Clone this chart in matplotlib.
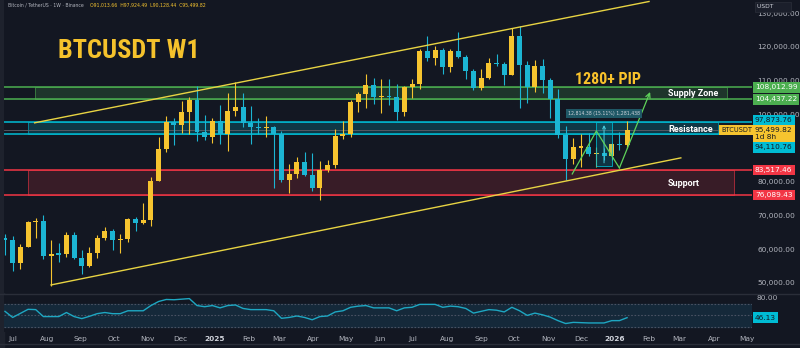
import matplotlib
matplotlib.use('Agg')
import matplotlib.pyplot as plt
import matplotlib.dates as mdates
import matplotlib.transforms as mtransforms
import matplotlib.font_manager as fm
from matplotlib.patches import Rectangle
from matplotlib.lines import Line2D
from matplotlib.colors import to_rgba
import numpy as np
import pandas as pd

# ---------------- data ----------------
first_week = '2024-06-24'
opens = [63200, 62770, 55860, 60800, 68170, 68260, 58120, 58710, 58430, 64220,
         57300, 54870, 58920, 63330, 65400, 62760, 62880, 68900, 67800, 68700,
         80300, 89700, 97600, 96800, 100700, 104300, 94800, 93400, 98000, 94300,
         101000, 102200, 97500, 96300, 96000, 96200, 94200, 80500, 82300, 85900,
         82000, 78200, 83500, 85000, 93600, 94100, 103700, 106000, 108700, 105200,
         105500, 105300, 100700, 108100, 109000, 118800, 116700, 119100, 114000, 118800,
         117000, 112900, 107800, 110800, 115300, 115100, 111700, 123300, 114700, 108100,
         114400, 110200, 104500, 94000, 86800, 90300, 90400, 88300, 88500, 87600,
         91200, 91013.66]
highs = [64500, 63860, 61420, 68370, 69400, 70080, 62750, 61800, 65000, 64960,
         59810, 60670, 64130, 66500, 66000, 64470, 69400, 69500, 73620, 81500,
         93270, 99590, 98870, 104000, 105250, 108350, 99960, 98980, 102720, 106420,
         109590, 106460, 102500, 98830, 99500, 96500, 95000, 85300, 87470, 88750,
         88500, 86100, 86500, 95750, 97900, 104350, 106600, 111980, 110700, 110500,
         110600, 108950, 108500, 110500, 119500, 123200, 120250, 119800, 119300, 124470,
         117600, 113500, 113400, 116700, 117900, 115600, 125700, 126200, 115900, 116000,
         116400, 110800, 107500, 96600, 93100, 94100, 94600, 90400, 90000, 91400,
         94800, 97924.49]
lows = [58400, 53480, 54260, 60630, 63450, 57120, 49000, 56080, 57790, 57200,
        52550, 54580, 57490, 62680, 59830, 58900, 62000, 65500, 67480, 66830,
        80220, 88750, 90790, 94500, 94150, 92230, 92500, 91530, 91200, 89260,
        99500, 96150, 91230, 94100, 93400, 78260, 80000, 76600, 81150, 81600,
        77150, 74500, 83000, 83950, 92800, 93400, 100700, 102000, 103100, 100370,
        102660, 98200, 99600, 105000, 107500, 115700, 114700, 112000, 112700, 116800,
        110600, 107300, 107300, 110600, 114400, 108600, 111600, 102000, 103500, 106700,
        106300, 98900, 93000, 80600, 85300, 84400, 87800, 84400, 86500, 86600,
        89300, 90128.44]
closes = [62770, 55860, 60800, 68170, 68260, 58120, 58710, 58430, 64220, 57300,
          54870, 58920, 63330, 65400, 62760, 62880, 68900, 67800, 68700, 80300,
          89700, 97600, 96800, 100700, 104300, 94800, 93400, 98000, 94300, 101000,
          102200, 97500, 96300, 96000, 96200, 94200, 80500, 82300, 85900, 82000,
          78200, 83500, 85000, 93600, 94100, 103700, 106000, 108700, 105200, 105500,
          105300, 100700, 108100, 109000, 118800, 116700, 119100, 114000, 118800, 117000,
          112900, 107800, 110800, 115300, 115100, 111700, 123300, 114700, 108100, 114400,
          110200, 104500, 94000, 86800, 90300, 90400, 88300, 88500, 87600, 91200,
          91010, 95499.82]
rsi = [57, 46.5, 53.5, 60.5, 60, 48, 48, 48, 55, 48,
       44.5, 48.5, 53, 55, 53, 53, 58, 58, 58, 67,
       74, 77.5, 77, 78, 79, 67, 65, 67, 63, 67,
       68, 62, 60, 60, 60, 58, 45, 46.5, 49, 46.5,
       42.5, 48, 49, 56, 58, 64, 66, 67, 63, 63,
       63, 58, 63, 64, 69, 69, 69, 64, 66, 65,
       62, 54, 57, 60, 59, 56, 64, 58, 50, 54,
       51, 47, 41, 36, 38, 37.5, 37, 37, 37, 41,
       41, 46.13]

price_ticks = [50000, 60000, 70000, 80000, 100000, 110000, 120000, 130000]

supply_zone = (104437.22, 108012.99, '2024-07-21', '2026-04-13')
resistance_zone = (94110.76, 97873.76, '2024-07-15', '2026-04-05')
support_zone = (76089.43, 83517.46, '2024-07-15', '2026-04-19')

channel_upper_dates = ['2024-07-21', '2026-02-01']
channel_upper_prices = [97500, 133500]
channel_lower_dates = ['2024-08-05', '2026-03-02']
channel_lower_prices = [49400, 87100]

path_dates = ['2025-11-23', '2025-12-15', '2026-01-05', '2026-02-02']
path_prices = [82320, 95080, 84100, 106650]

measure_dates = ['2025-12-15', '2025-12-29']
measure_prices = [84800, 97650]
measure_label = '12,814.38 (15.11%) 1,281,438'

header_name = 'Bitcoin / TetherUS · 1W · Binance'
header_ohlc = 'O91,013.66  H97,924.49  L90,128.44  C95,499.82'

# ---------------- style ----------------
BG = '#131722'
UP = '#f6c42f'
DOWN = '#1cb5d3'
GRID_TXT = '#b2b5be'
GREEN = '#4caf50'
CYAN = '#00bcd4'
RED = '#f23645'
YELLOW_LINE = '#e8d443'

W, H = 800, 348

# pick a condensed bold font if one is installed
narrow_kw = dict(family=['DejaVu Sans'])
narrow_found = False
names = {f.name for f in fm.fontManager.ttflist}
for nm in ['Liberation Sans Narrow', 'Roboto Condensed', 'Open Sans Condensed',
           'Noto Sans Condensed', 'DejaVu Sans Condensed', 'Arial Narrow']:
    if nm in names:
        narrow_kw = dict(family=[nm, 'DejaVu Sans'])
        narrow_found = True
        break
if not narrow_found:
    for f in fm.fontManager.ttflist:
        if f.stretch in ('condensed', 'semi-condensed', 'extra-condensed') or \
                (isinstance(f.stretch, int) and f.stretch < 500):
            narrow_kw = dict(family=[f.name, 'DejaVu Sans'], fontstretch='condensed')
            narrow_found = True
            break


def px_axes(l, t, r, b):
    return [l / W, 1 - b / H, (r - l) / W, (b - t) / H]


fig = plt.figure(figsize=(W / 100, H / 100), dpi=100, facecolor=BG)
ax = fig.add_axes(px_axes(4, 0, 752, 293))
axr = fig.add_axes(px_axes(4, 295, 752, 332), sharex=ax)
for a in (ax, axr):
    a.set_facecolor(BG)
    for s in a.spines.values():
        s.set_visible(False)

dates = pd.date_range(first_week, periods=len(opens), freq='7D')
x = mdates.date2num(dates)
o = np.array(opens, float)
h = np.array(highs, float)
l = np.array(lows, float)
c = np.array(closes, float)

base = mdates.date2num(pd.Timestamp(first_week))
px_per_day = 7.68 / 7.0
xl = base + (4 - 5) / px_per_day
xr = base + (752 - 5) / px_per_day
ax.set_xlim(xl, xr)

ppx = 10000 / 33.7
ytop = 120000 + 47 * ppx
ybot = 120000 - (293 - 47) * ppx
ax.set_ylim(ybot, ytop)


def ypx(py):
    return 120000 - (py - 47) * ppx


def draw_zone(z, col, alpha):
    lo, hi, d0, d1 = z
    x0 = mdates.date2num(pd.Timestamp(d0))
    x1 = mdates.date2num(pd.Timestamp(d1))
    ax.add_patch(Rectangle((x0, lo), x1 - x0, hi - lo, facecolor=to_rgba(col, alpha),
                           edgecolor=to_rgba(col, 0.6), lw=0.7, zorder=1))
    ax.axhline(lo, color=col, lw=1.1, zorder=2)
    ax.axhline(hi, color=col, lw=1.1, zorder=2)


draw_zone(supply_zone, GREEN, 0.2)
draw_zone(resistance_zone, CYAN, 0.2)
draw_zone(support_zone, RED, 0.17)

ax.axhline(c[-1], color='#5d606b', lw=0.6, zorder=2)

ax.plot(mdates.date2num(pd.to_datetime(channel_upper_dates)), channel_upper_prices,
        color=YELLOW_LINE, lw=1.0, zorder=5)
ax.plot(mdates.date2num(pd.to_datetime(channel_lower_dates)), channel_lower_prices,
        color=YELLOW_LINE, lw=1.0, zorder=5)

# candles
up = c >= o
cols = np.where(up, UP, DOWN)
ax.vlines(x, l, h, colors=cols, lw=0.8, zorder=3)
body_lo = np.minimum(o, c)
body_h = np.abs(c - o)
minh = 350
body_lo = np.where(body_h < minh, body_lo - (minh - body_h) / 2, body_lo)
body_h = np.maximum(body_h, minh)
ax.bar(x, body_h, bottom=body_lo, width=4.5, color=cols, linewidth=0, zorder=4)

# measurement box
mx = mdates.date2num(pd.to_datetime(measure_dates))
ax.add_patch(Rectangle((mx[0], measure_prices[0]), mx[1] - mx[0],
                       measure_prices[1] - measure_prices[0],
                       facecolor=to_rgba(CYAN, 0.18), edgecolor=to_rgba(CYAN, 0.8),
                       lw=0.7, zorder=6))
mid = (mx[0] + mx[1]) / 2
ax.annotate('', xy=(mid, measure_prices[1]), xytext=(mid, measure_prices[0]),
            arrowprops=dict(arrowstyle='->', color='#4dd0e1', lw=0.7,
                            mutation_scale=5), zorder=7)
ax.text(mid, measure_prices[1] + 2600, measure_label, fontsize=3.3, color='#d1d4dc',
        ha='center', va='center', zorder=8,
        bbox=dict(boxstyle='square,pad=0.5', fc='#1f5866', ec='none'))

# green projection path
pxs = mdates.date2num(pd.to_datetime(path_dates))
ax.plot(pxs[:-1], path_prices[:-1], color='#5fd35a', lw=0.9, zorder=7)
ax.annotate('', xy=(pxs[-1], path_prices[-1]), xytext=(pxs[-2], path_prices[-2]),
            arrowprops=dict(arrowstyle='->', color='#5fd35a', lw=0.9,
                            mutation_scale=8, shrinkA=0, shrinkB=0), zorder=7)


def fx(px):
    return (px - 4) / 748.0


def fy(py):
    return 1 - py / 293.0


lab_kw = dict(transform=ax.transAxes, color='white', fontsize=6.5, fontweight='bold',
              ha='left', va='center', zorder=9, family=['Roboto', 'DejaVu Sans'])
ax.text(fx(668), fy(94), 'Supply Zone', **lab_kw)
ax.text(fx(668), fy(129), 'Resistance', **lab_kw)
ax.text(fx(668), fy(183), 'Support', **lab_kw)

pip_size = 11.5 if narrow_found else 8.5
title_size = 19 if narrow_found else 14.5
ax.text(fx(575), fy(80), '1280+ PIP', transform=ax.transAxes, color='#f9c22b',
        fontsize=pip_size, fontweight='bold', ha='left', va='center', zorder=9,
        **narrow_kw)
ax.text(fx(58), fy(51), 'BTCUSDT W1', transform=ax.transAxes, color='#f5c22c',
        fontsize=title_size, fontweight='heavy', ha='left', va='center', zorder=9,
        **narrow_kw)

# price axis
ax.yaxis.tick_right()
ax.set_yticks(price_ticks)
ax.set_yticklabels([f'{v:,.2f}' for v in price_ticks])
ax.tick_params(axis='y', length=0, pad=4, labelsize=5.3, labelcolor=GRID_TXT)
ax.tick_params(axis='x', length=0, labelbottom=False)

ytr = mtransforms.blended_transform_factory(ax.transAxes, ax.transData)
box_x = 1 + 3 / 748.0


def price_box(val, fc, tc, ypos_px=None, txt=None):
    yv = ypx(ypos_px) if ypos_px is not None else val
    ax.text(box_x, yv, txt if txt else f'{val:,.2f}', transform=ytr, fontsize=5.3,
            color=tc, ha='left', va='center', zorder=10, clip_on=False,
            linespacing=1.25,
            bbox=dict(boxstyle='square,pad=0.3', fc=fc, ec='none'))


price_box(supply_zone[1], GREEN, 'white')
price_box(supply_zone[0], GREEN, 'white')
price_box(resistance_zone[1], CYAN, '#131722', ypos_px=120.5)
price_box(c[-1], '#f6c42f', '#131722', ypos_px=133.5, txt=f'{c[-1]:,.2f}\n1d 8h')
price_box(resistance_zone[0], CYAN, '#131722', ypos_px=147.5)
price_box(support_zone[1], RED, 'white')
price_box(support_zone[0], RED, 'white')
ax.text(fx(721), c[-1], 'BTCUSDT', transform=ytr, fontsize=4.8, color='#131722',
        ha='left', va='center', zorder=10,
        bbox=dict(boxstyle='square,pad=0.3', fc='#f6c42f', ec='none'))

# RSI panel
axr.set_ylim(21.4, 85.2)
axr.axhspan(30, 70, color='#15293a', zorder=0)
for lv in (30, 50, 70):
    axr.axhline(lv, color='#4a5263', lw=0.8, ls=(0, (1.5, 1.5)), zorder=1)
axr.plot(x, rsi, color='#1ea7c2', lw=1.0, zorder=3)
axr.set_yticks([])
rtr = mtransforms.blended_transform_factory(axr.transAxes, axr.transData)
axr.text(1 + 5 / 748.0, 80, '80.00', transform=rtr, fontsize=5.3, color=GRID_TXT,
         ha='left', va='center', clip_on=False)
axr.text(box_x, rsi[-1], f'{rsi[-1]:.2f}', transform=rtr, fontsize=5.3, color='#131722',
         ha='left', va='center', clip_on=False,
         bbox=dict(boxstyle='square,pad=0.3', fc=CYAN, ec='none'))

axr.xaxis.set_major_locator(mdates.MonthLocator())


def month_fmt(v, pos=None):
    d = mdates.num2date(v)
    return str(d.year) if d.month == 1 else d.strftime('%b')


axr.xaxis.set_major_formatter(plt.FuncFormatter(month_fmt))
axr.tick_params(axis='x', length=0, pad=3, labelsize=5.3, labelcolor=GRID_TXT)
ax.set_xlim(xl, xr)
fig.canvas.draw()
for lab in axr.get_xticklabels():
    if lab.get_text().isdigit():
        lab.set_fontweight('bold')
        lab.set_color('#d1d4dc')

# header
fig.text(8 / W, 1 - 5 / H, header_name, fontsize=3.3, color=GRID_TXT, va='center')
fig.text(90 / W, 1 - 5 / H, header_ohlc, fontsize=3.3, color='#f6c42f', va='center')
fig.text(757 / W, 1 - 7 / H, 'USDT        ', fontsize=4.3, color='#d1d4dc', va='center',
         bbox=dict(boxstyle='square,pad=0.4', fc='#1b1f2b', ec='#2a2e39', lw=0.5))

fig.patches.append(Rectangle((0, 0), 4 / W, 1, transform=fig.transFigure,
                             color='#1e222d', zorder=-1))
fig.add_artist(Line2D([0, 1], [1 - 294 / H, 1 - 294 / H], color='#2a2e39', lw=1))
fig.add_artist(Line2D([0, 1], [1 - 344 / H, 1 - 344 / H], color='#2a2e39', lw=1))

fig.savefig('out.png', dpi=100, facecolor=BG)
